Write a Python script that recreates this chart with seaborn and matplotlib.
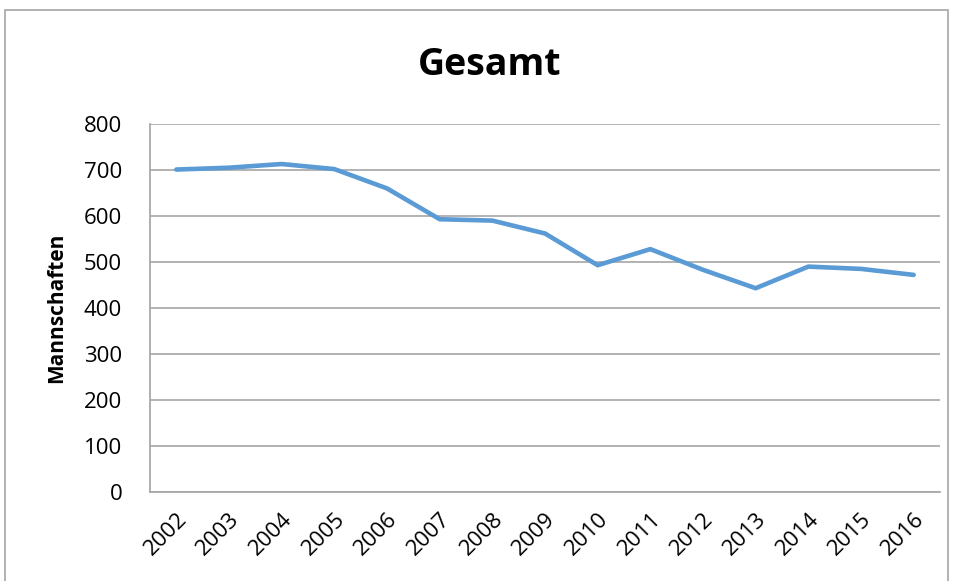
import numpy as np
import pandas as pd
import seaborn as sns
import matplotlib.pyplot as plt
from matplotlib.patches import Rectangle

years = ["2002", "2003", "2004", "2005", "2006", "2007", "2008", "2009",
         "2010", "2011", "2012", "2013", "2014", "2015", "2016"]
teams = [701, 705, 713, 702, 660, 593, 590, 562, 493, 528, 483, 443, 490, 485, 472]

df = pd.DataFrame({"Jahr": years, "Mannschaften": teams})

sns.set_theme(style="white")
plt.rcParams["font.family"] = ["Open Sans", "DejaVu Sans"]
plt.rcParams["text.color"] = "black"

fig = plt.figure(figsize=(9.57, 5.81), dpi=100)
W, H = 957, 581
ax = fig.add_axes([150 / W, 1 - 492 / H, 790 / W, 368 / H])

sns.lineplot(data=df, x="Jahr", y="Mannschaften", ax=ax, color="#5b9bd5",
             linewidth=3.3, sort=False)

ax.set_ylim(0, 800)
ax.set_yticks(np.arange(0, 801, 100))
ax.set_xlim(-0.5, len(years) - 0.5)
ax.yaxis.grid(True, color="#a6a6a6", linewidth=1.2)
ax.set_axisbelow(True)
for s in ["top", "right"]:
    ax.spines[s].set_visible(False)
ax.spines["left"].set_color("#a6a6a6")
ax.spines["bottom"].set_color("#a6a6a6")
ax.tick_params(axis="both", length=0, labelsize=16, colors="black")
ax.tick_params(axis="y", pad=20)
ax.tick_params(axis="x", pad=12)
plt.setp(ax.get_xticklabels(), rotation=45, ha="right", rotation_mode="anchor")
ax.set_xlabel("")
ax.set_ylabel("Mannschaften", fontsize=15, fontweight="bold", labelpad=12,
              color="black")

fig.text(490 / W, 1 - 65 / H, "Gesamt", ha="center", va="center",
         fontsize=27, fontweight="bold", color="black")

fig.patches.append(Rectangle((5 / W, -0.05), 943 / W, 1 - 10 / H + 0.05,
                             transform=fig.transFigure, fill=False,
                             edgecolor="#a6a6a6", linewidth=1.2))

fig.savefig("out.png", dpi=100)
